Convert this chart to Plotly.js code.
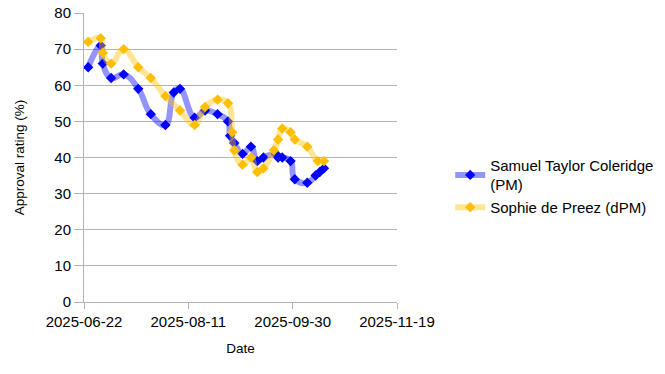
<!DOCTYPE html>
<html>
<head>
<meta charset="utf-8">
<script src="https://cdn.plot.ly/plotly-3.0.1.min.js"></script>
<style>html,body{margin:0;padding:0;background:#fff;}#chart{width:665px;height:374px;}</style>
</head>
<body>
<div id="chart"></div>
<script>
const seriesNames = ["Samuel Taylor Coleridge<br>(PM)", "Sophie de Preez (dPM)"];

const pmDates = ["2025-06-24","2025-06-30","2025-07-01","2025-07-05","2025-07-11","2025-07-18","2025-07-24","2025-07-31","2025-08-04","2025-08-07","2025-08-14","2025-08-19","2025-08-25","2025-08-30","2025-08-31","2025-09-02","2025-09-06","2025-09-10","2025-09-13","2025-09-16","2025-09-22","2025-09-23","2025-09-25","2025-09-29","2025-10-01","2025-10-07","2025-10-11","2025-10-13","2025-10-15"];
const pmValues = [65,71,66,62,63,59,52,49,58,59,51,53,52,50,46,44,41,43,39,40,41,40,40,39,34,33,35,36,37];

const dpmDates = ["2025-06-24","2025-06-30","2025-07-01","2025-07-05","2025-07-11","2025-07-18","2025-07-24","2025-07-31","2025-08-07","2025-08-14","2025-08-19","2025-08-25","2025-08-30","2025-09-01","2025-09-02","2025-09-06","2025-09-10","2025-09-13","2025-09-16","2025-09-21","2025-09-23","2025-09-25","2025-09-29","2025-10-01","2025-10-07","2025-10-12","2025-10-15"];
const dpmValues = [72,73,69,66,70,65,62,57,53,49,54,56,55,47,42,38,40,36,37,42,45,48,47,45,43,39,39];

const xTickStart = "2025-06-22";
const xRange = ["2025-06-22", "2025-11-19"];
const yTicks = [0,10,20,30,40,50,60,70,80];

const FONT = "Liberation Sans, Arial, sans-serif";

const traces = [
  {
    x: pmDates, y: pmValues, name: seriesNames[0], type: "scatter", mode: "lines+markers",
    line: {color: "rgba(0,0,255,0.42)", width: 6, shape: "spline", smoothing: 1.3},
    marker: {symbol: "diamond", size: 8, color: "#0000ff"}
  },
  {
    x: dpmDates, y: dpmValues, name: seriesNames[1], type: "scatter", mode: "lines+markers",
    line: {color: "rgba(255,192,0,0.42)", width: 6, shape: "spline", smoothing: 1.3},
    marker: {symbol: "diamond", size: 8, color: "#ffbf00"}
  }
];

const layout = {
  width: 665, height: 374,
  margin: {l: 84, r: 268, t: 13, b: 72, pad: 0, autoexpand: false},
  paper_bgcolor: "#ffffff", plot_bgcolor: "#ffffff",
  font: {family: FONT, size: 15, color: "#000"},
  showlegend: true,
  legend: {x: 1.17, xanchor: "left", y: 0.40, yanchor: "middle", font: {family: FONT, size: 15, color: "#000"}, bgcolor: "rgba(0,0,0,0)", tracegroupgap: 0},
  xaxis: {
    type: "date", range: xRange, tick0: xTickStart, dtick: 50*86400000, tickformat: "%Y-%m-%d",
    showgrid: false, zeroline: false, showline: true, linecolor: "#b3b3b3", linewidth: 1,
    ticks: "outside", ticklen: 6, tickcolor: "#b3b3b3",
    tickfont: {family: FONT, size: 15, color: "#000"},
    title: {text: "Date", font: {family: FONT, size: 13.5, color: "#000"}, standoff: 14},
    automargin: false
  },
  yaxis: {
    range: [0, 80], tickvals: yTicks,
    showgrid: true, gridcolor: "#b3b3b3", gridwidth: 1, zeroline: false,
    showline: true, linecolor: "#b3b3b3", linewidth: 1,
    ticks: "outside", ticklen: 9, tickcolor: "#b3b3b3",
    tickfont: {family: FONT, size: 15, color: "#000"},
    title: {text: "Approval rating (%)", font: {family: FONT, size: 13.5, color: "#000"}, standoff: 26},
    automargin: false
  }
};

Plotly.newPlot("chart", traces, layout, {displayModeBar: false, staticPlot: true});
</script>
</body>
</html>
